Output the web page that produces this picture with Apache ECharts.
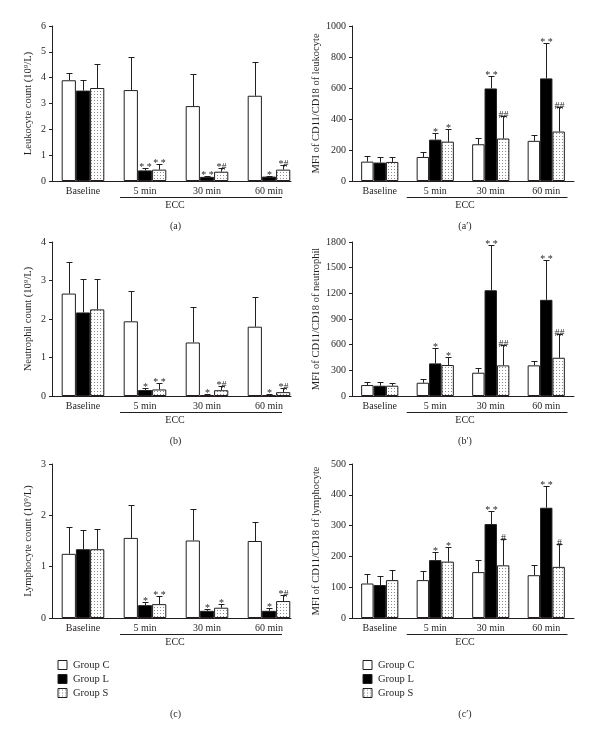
<!DOCTYPE html>
<html><head><meta charset="utf-8">
<script src="https://cdn.jsdelivr.net/npm/echarts@6/dist/echarts.min.js"></script>
<style>html,body{margin:0;padding:0;background:#fff}#c{width:600px;height:733px}</style>
</head><body><div id="c"></div>
<script>
const categories = ['Baseline', '5 min', '30 min', '60 min'];
const groupNames = ['Group C', 'Group L', 'Group S'];

// (a) Leukocyte count
const leukMeanC = [3.9, 3.52, 2.9, 3.3];
const leukSdC   = [0.3, 1.27, 1.24, 1.32];
const leukMeanL = [3.5, 0.41, 0.16, 0.17];
const leukSdL   = [0.4, 0.11, 0.04, 0.03];
const leukMeanS = [3.6, 0.44, 0.36, 0.44];
const leukSdS   = [0.93, 0.21, 0.16, 0.17];
const leukMarkL = ['', '* *', '* *', '*'];
const leukMarkS = ['', '* *', '*#', '*#'];

// (b) Neutrophil count
const neutMeanC = [2.66, 1.94, 1.39, 1.8];
const neutSdC   = [0.82, 0.78, 0.93, 0.78];
const neutMeanL = [2.17, 0.155, 0.02, 0.025];
const neutSdL   = [0.88, 0.05, 0.02, 0.015];
const neutMeanS = [2.25, 0.17, 0.15, 0.1];
const neutSdS   = [0.8, 0.16, 0.11, 0.1];
const neutMarkL = ['', '*', '*', '*'];
const neutMarkS = ['', '* *', '*#', '*#'];

// (c) Lymphocyte count
const lymMeanC = [1.25, 1.56, 1.51, 1.5];
const lymSdC   = [0.52, 0.65, 0.61, 0.37];
const lymMeanL = [1.34, 0.25, 0.14, 0.14];
const lymSdL   = [0.37, 0.06, 0.04, 0.05];
const lymMeanS = [1.34, 0.27, 0.2, 0.33];
const lymSdS   = [0.4, 0.15, 0.08, 0.11];
const lymMarkL = ['', '*', '*', '*'];
const lymMarkS = ['', '* *', '*', '*#'];

// (a') MFI leukocyte
const mfiLeuMeanC = [125, 155, 237, 259];
const mfiLeuSdC   = [37, 32, 43, 38];
const mfiLeuMeanL = [119, 267, 597, 662];
const mfiLeuSdL   = [39, 43, 82, 226];
const mfiLeuMeanS = [123, 254, 274, 319];
const mfiLeuSdS   = [35, 82, 146, 157];
const mfiLeuMarkL = ['', '*', '* *', '* *'];
const mfiLeuMarkS = ['', '*', '##', '##'];

// (b') MFI neutrophil
const mfiNeuMeanC = [128, 155, 272, 358];
const mfiNeuSdC   = [39, 39, 51, 46];
const mfiNeuMeanL = [120, 381, 1236, 1124];
const mfiNeuSdL   = [47, 175, 525, 470];
const mfiNeuMeanS = [120, 362, 358, 447];
const mfiNeuSdS   = [35, 89, 233, 272];
const mfiNeuMarkL = ['', '*', '* *', '* *'];
const mfiNeuMarkS = ['', '*', '##', '##'];

// (c') MFI lymphocyte
const mfiLymMeanC = [112, 123, 149, 139];
const mfiLymSdC   = [32, 28, 39, 32];
const mfiLymMeanL = [107, 188, 305, 358];
const mfiLymSdL   = [30, 25, 41, 70];
const mfiLymMeanS = [123, 183, 171, 166];
const mfiLymSdS   = [32, 46, 87, 74];
const mfiLymMarkL = ['', '*', '* *', '* *'];
const mfiLymMarkS = ['', '*', '#', '#'];

const yMaxes = [6, 1000, 4, 1800, 3, 500];
const yIntervals = [1, 200, 1, 300, 1, 100];
const yTitles = ['Leukocyte count (10\u2079/L)', 'MFI of CD11/CD18 of leukocyte',
                 'Neutrophil count (10\u2079/L)', 'MFI of CD11/CD18 of neutrophil',
                 'Lymphocyte count (10\u2079/L)', 'MFI of CD11/CD18 of lymphocyte'];
const panelLabels = ['(a)', '(a\u2032)', '(b)', '(b\u2032)', '(c)', '(c\u2032)'];

const panels = [
  {means: [leukMeanC, leukMeanL, leukMeanS], sds: [leukSdC, leukSdL, leukSdS], marks: [null, leukMarkL, leukMarkS]},
  {means: [mfiLeuMeanC, mfiLeuMeanL, mfiLeuMeanS], sds: [mfiLeuSdC, mfiLeuSdL, mfiLeuSdS], marks: [null, mfiLeuMarkL, mfiLeuMarkS]},
  {means: [neutMeanC, neutMeanL, neutMeanS], sds: [neutSdC, neutSdL, neutSdS], marks: [null, neutMarkL, neutMarkS]},
  {means: [mfiNeuMeanC, mfiNeuMeanL, mfiNeuMeanS], sds: [mfiNeuSdC, mfiNeuSdL, mfiNeuSdS], marks: [null, mfiNeuMarkL, mfiNeuMarkS]},
  {means: [lymMeanC, lymMeanL, lymMeanS], sds: [lymSdC, lymSdL, lymSdS], marks: [null, lymMarkL, lymMarkS]},
  {means: [mfiLymMeanC, mfiLymMeanL, mfiLymMeanS], sds: [mfiLymSdC, mfiLymSdL, mfiLymSdS], marks: [null, mfiLymMarkL, mfiLymMarkS]}
];

// layout
const FONT = '"Liberation Serif", "DejaVu Serif", serif';
const INK = '#231f20';
const cols = [
  {left: 52, width: 239, xMax: 3.355, barW: 14.2, nameGap: 18, ecc: [120, 282], eccX: 175, labX: 175.5},
  {left: 352, width: 222, xMax: 3.5, barW: 12.4, nameGap: 30, ecc: [406.7, 567.5], eccX: 465, labX: 465}
];
const rows = [
  {top: 26, height: 155, labY: 226},
  {top: 242, height: 154, labY: 441.5},
  {top: 464, height: 154, labY: 714}
];

function makePattern() {
  const c = document.createElement('canvas');
  c.width = 3; c.height = 3;
  const g = c.getContext('2d');
  g.fillStyle = '#ffffff'; g.fillRect(0, 0, 3, 3);
  g.fillStyle = '#8c8c8c'; g.fillRect(1, 1, 1, 1);
  return c;
}
const fills = ['#ffffff', '#000000', {image: makePattern(), repeat: 'repeat'}];

const grid = [], xAxis = [], yAxis = [], series = [], graphic = [];
panels.forEach((p, i) => {
  const col = cols[i % 2], row = rows[Math.floor(i / 2)];
  grid.push({left: col.left, top: row.top, width: col.width, height: row.height});
  xAxis.push({
    type: 'value', gridIndex: i, min: -0.5, max: col.xMax,
    axisLine: {show: true, onZero: false, lineStyle: {color: INK, width: 1}},
    axisTick: {show: false}, splitLine: {show: false},
    axisLabel: {customValues: [0, 1, 2, 3], formatter: v => categories[Math.round(v)] || '',
      margin: 5, color: INK, fontFamily: FONT, fontSize: 10}
  });
  yAxis.push({
    type: 'value', gridIndex: i, min: 0, max: yMaxes[i], interval: yIntervals[i],
    name: yTitles[i], nameLocation: 'middle', nameGap: col.nameGap,
    nameTextStyle: {color: INK, fontFamily: FONT, fontSize: 10.5},
    axisLine: {show: true, onZero: false, lineStyle: {color: INK, width: 1}},
    axisTick: {show: true, inside: false, length: 3, lineStyle: {color: INK}},
    splitLine: {show: false},
    axisLabel: {margin: 6, color: INK, fontFamily: FONT, fontSize: 10, formatter: v => String(v)}
  });
  for (let k = 0; k < 3; k++) {
    series.push({
      type: 'bar', name: groupNames[k], xAxisIndex: i, yAxisIndex: i,
      barWidth: col.barW, barGap: '0%',
      itemStyle: {color: fills[k], borderColor: INK, borderWidth: 1},
      emphasis: {disabled: true},
      data: p.means[k].map((v, t) => [t, v])
    });
  }
  const errData = [];
  const errMarks = [];
  for (let k = 0; k < 3; k++) {
    p.means[k].forEach((v, t) => {
      errData.push([t, v, p.sds[k][t], k]);
      errMarks.push(p.marks[k] ? p.marks[k][t] : '');
    });
  }
  series.push({
    type: 'custom', xAxisIndex: i, yAxisIndex: i, clip: false, silent: true, z: 5,
    data: errData,
    renderItem: (params, api) => {
      const x = api.value(0), m = api.value(1), sd = api.value(2), k = api.value(3);
      const a = api.coord([x, m]);
      const b = api.coord([x, m + sd]);
      const cx = Math.round(a[0] + (k - 1) * col.barW) + 0.5;
      const yt = Math.round(b[1]) + 0.5;
      const st = {stroke: INK, lineWidth: 1};
      const children = [
        {type: 'line', shape: {x1: cx, y1: a[1], x2: cx, y2: yt}, style: st},
        {type: 'line', shape: {x1: cx - 3, y1: yt, x2: cx + 3, y2: yt}, style: st}
      ];
      const mk = errMarks[params.dataIndex];
      if (mk) children.push({type: 'text', style: {text: mk, x: cx, y: yt + 4, align: 'center', verticalAlign: 'bottom',
        font: '10px ' + FONT, fill: INK}});
      return {type: 'group', children};
    }
  });
  // ECC bracket, ECC text and panel label (decoration)
  const axisY = row.top + row.height;
  graphic.push({type: 'line', shape: {x1: col.ecc[0], y1: axisY + 16.5, x2: col.ecc[1], y2: axisY + 16.5},
    style: {stroke: INK, lineWidth: 1}});
  graphic.push({type: 'text', x: col.eccX, y: axisY + 24.5, style: {text: 'ECC', align: 'center', verticalAlign: 'middle',
    font: '10px ' + FONT, fill: INK}});
  graphic.push({type: 'text', x: col.labX, y: row.labY, style: {text: panelLabels[i], align: 'center', verticalAlign: 'middle',
    font: '10px ' + FONT, fill: INK}});
});

const legendBase = {orient: 'vertical', top: 654, itemWidth: 9, itemHeight: 9, itemGap: 2, icon: 'rect',
  selectedMode: false, data: groupNames, itemStyle: {borderWidth: 1},
  textStyle: {color: INK, fontFamily: FONT, fontSize: 10.5, lineHeight: 12, padding: [0, 0, 0, 1]}};

const chart = echarts.init(document.getElementById('c'), null, {renderer: 'canvas'});
chart.setOption({
  backgroundColor: '#ffffff',
  animation: false,
  legend: [Object.assign({left: 52.5}, legendBase), Object.assign({left: 357.5}, legendBase)],
  grid, xAxis, yAxis, series, graphic
});
</script></body></html>
